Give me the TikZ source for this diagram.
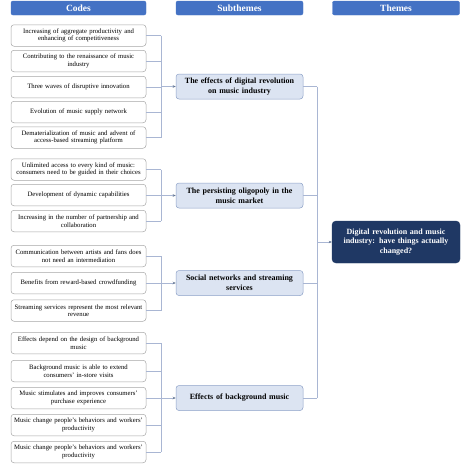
\documentclass[tikz,border=0pt]{standalone}
\usepackage{fontspec}
\setmainfont{Liberation Serif}
\usetikzlibrary{arrows.meta}
\definecolor{hdrblue}{HTML}{4472C4}
\definecolor{subfill}{HTML}{DCE4F2}
\definecolor{subdraw}{HTML}{8EA2C8}
\definecolor{navy}{HTML}{1F3864}
\definecolor{codedraw}{HTML}{A6A6A6}
\definecolor{linec}{HTML}{A9B6D3}
\tikzset{
  header/.style={draw=hdrblue, fill=hdrblue, rounded corners=2pt, minimum height=14pt,
    text=white, font=\fontsize{9.5}{11}\selectfont\bfseries, inner sep=0pt},
  codebox/.style={draw=codedraw, line width=0.5pt, fill=white, rounded corners=3pt,
    minimum width=135pt, minimum height=21.5pt, text width=133pt, align=center,
    inner sep=0pt, font=\fontsize{6.7}{7.5}\selectfont},
  subbox/.style={draw=subdraw, line width=0.5pt, fill=subfill, rounded corners=3pt,
    minimum width=127pt, minimum height=25pt, text width=125pt, align=center,
    inner sep=0pt, font=\fontsize{8}{9.6}\selectfont\bfseries},
  themebox/.style={draw=navy, fill=navy, rounded corners=4pt, text=white,
    minimum width=128pt, minimum height=42pt, text width=124pt, align=center,
    inner sep=0pt, font=\fontsize{8}{9.2}\selectfont\bfseries},
  conn/.style={draw=linec, line width=0.6pt},
  arr/.style={conn, -{Stealth[length=3pt,width=2.5pt,color=navy!70]}}
}
\newcommand{\ctr}{\leftskip=0pt plus 1fil\rightskip=0pt plus 1fil\parfillskip=0pt\relax}
\begin{document}
\begin{tikzpicture}[x=1pt,y=-1pt]
\useasboundingbox[fill=white] (0,0) rectangle (474,469);
% headers
\node[header, minimum width=135pt] (hc) at (78.5,8) {Codes};
\node[header, minimum width=127pt] (hs) at (239.5,8) {Subthemes};
\node[header, minimum width=127pt] (ht) at (396,8) {Themes};
% codes
\node[codebox] (c1) at (78.5,35.5) {\ctr Increasing of aggregate productivity and\\enhancing of competitiveness};
\node[codebox] (c2) at (78.5,61) {\ctr Contributing to the renaissance of music\\industry};
\node[codebox] (c3) at (78.5,87) {Three waves of disruptive innovation};
\node[codebox] (c4) at (78.5,112) {Evolution of music supply network};
\node[codebox] (c5) at (78.5,137.5) {\ctr Dematerialization of music and advent of\\access-based streaming platform};
\node[codebox] (c6) at (78.5,169.5) {\ctr Unlimited access to every kind of music:\\consumers need to be guided in their choices};
\node[codebox] (c7) at (78.5,195) {Development of dynamic capabilities};
\node[codebox] (c8) at (78.5,221) {\ctr Increasing in the number of partnership and\\collaboration};
\node[codebox] (c9) at (78.5,256) {\ctr Communication between artists and fans does\\not need an intermediation};
\node[codebox] (c10) at (78.5,283) {Benefits from reward-based crowdfunding};
\node[codebox] (c11) at (78.5,310.5) {\ctr Streaming services represent the most relevant\\revenue};
\node[codebox] (c12) at (78.5,343) {\ctr Effects depend on the design of background\\music};
\node[codebox] (c13) at (78.5,371) {\ctr Background music is able to extend\\consumers' in-store visits};
\node[codebox] (c14) at (78.5,398) {\ctr Music stimulates and improves consumers'\\purchase experience};
\node[codebox] (c15) at (78.5,425) {\ctr Music change people's behaviors and workers'\\productivity};
\node[codebox] (c16) at (78.5,452) {\ctr Music change people's behaviors and workers'\\productivity};
% subthemes
\node[subbox] (s1) at (239.5,86.5) {\ctr The effects of digital revolution\\on music industry};
\node[subbox] (s2) at (239.5,195.5) {\ctr The persisting oligopoly in the\\music market};
\node[subbox] (s3) at (239.5,283) {\ctr Social networks and streaming\\services};
\node[subbox] (s4) at (239.5,398) {Effects of background music};
% theme
\node[themebox] (t) at (396,242) {\ctr Digital revolution and music\\industry: have things actually\\changed?};
% bus coordinates
\coordinate (b) at (161,0);
\coordinate (r) at (317,0);
% group 1
\foreach \n in {c1,c2,c3,c4,c5} \draw[conn] (\n.east) -- (\n.east -| b);
\draw[conn] (c1.east -| b) -- (c5.east -| b);
\draw[arr] (b |- s1.west) -- (s1.west);
% group 2
\foreach \n in {c6,c7,c8} \draw[conn] (\n.east) -- (\n.east -| b);
\draw[conn] (c6.east -| b) -- (c8.east -| b);
\draw[arr] (b |- s2.west) -- (s2.west);
% group 3
\foreach \n in {c9,c10,c11} \draw[conn] (\n.east) -- (\n.east -| b);
\draw[conn] (c9.east -| b) -- (c11.east -| b);
\draw[arr] (b |- s3.west) -- (s3.west);
% group 4
\foreach \n in {c12,c13,c14,c15,c16} \draw[conn] (\n.east) -- (\n.east -| b);
\draw[conn] (c12.east -| b) -- (c16.east -| b);
\draw[arr] (b |- s4.west) -- (s4.west);
% right bus
\foreach \n in {s1,s2,s3,s4} \draw[conn] (\n.east) -- (\n.east -| r);
\draw[conn] (s1.east -| r) -- (s4.east -| r);
\draw[arr] (r |- t.west) -- (t.west);
\end{tikzpicture}
\end{document}
